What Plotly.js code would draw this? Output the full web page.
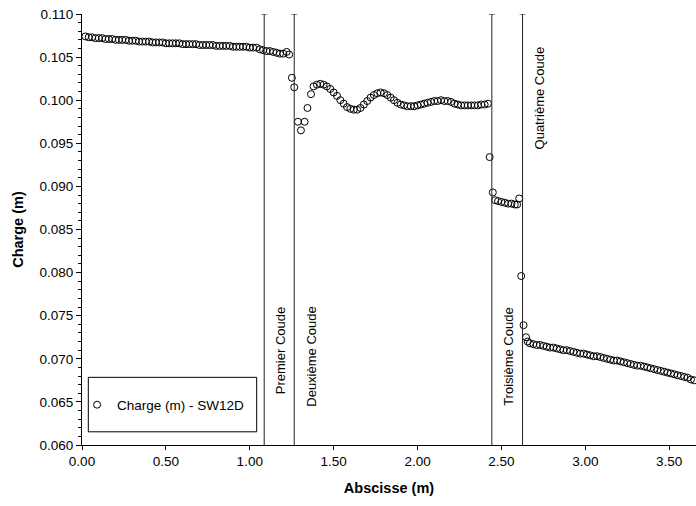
<!DOCTYPE html>
<html>
<head>
<meta charset="utf-8">
<script src="https://cdn.plot.ly/plotly-3.0.1.min.js"></script>
<style>html,body{margin:0;padding:0;background:#fff;}#chart{width:696px;height:506px;}</style>
</head>
<body>
<div id="chart"></div>
<script>
// Abscisse (m)
const abscisse = [
0.02,0.04,0.06,0.08,0.10,0.12,0.14,0.16,0.18,0.20,0.22,0.24,0.26,0.28,0.30,0.32,0.34,0.36,0.38,0.40,
0.42,0.44,0.46,0.48,0.50,0.52,0.54,0.56,0.58,0.60,0.62,0.64,0.66,0.68,0.70,0.72,0.74,0.76,0.78,0.80,
0.82,0.84,0.86,0.88,0.90,0.92,0.94,0.96,0.98,1.00,1.02,1.04,
1.06,1.08,1.10,1.12,1.14,1.16,1.18,1.20,1.22,1.235,
1.251,1.265,1.287,1.305,1.327,1.344,1.365,1.38,
1.40,1.42,1.44,1.46,1.48,1.50,1.52,1.54,1.56,1.58,1.60,1.62,1.64,1.66,1.68,1.70,1.72,1.74,1.76,1.78,
1.80,1.82,1.84,1.86,1.88,1.90,1.92,1.94,1.96,1.98,2.00,2.02,2.04,2.06,2.08,2.10,2.12,2.14,2.16,2.18,
2.20,2.22,2.24,2.26,2.28,2.30,2.32,2.34,2.36,2.38,2.40,2.42,
2.43,2.449,2.463,2.48,2.50,2.52,2.54,2.56,2.58,2.594,2.606,
2.618,2.632,2.647,2.657,
2.67,2.69,2.71,2.73,2.75,2.77,2.79,2.81,2.83,2.85,2.87,2.89,2.91,2.93,2.95,2.97,2.99,3.01,3.03,3.05,
3.07,3.09,3.11,3.13,3.15,3.17,3.19,3.21,3.23,3.25,3.27,3.29,3.31,3.33,3.35,3.37,3.39,3.41,3.43,3.45,
3.47,3.49,3.51,3.53,3.55,3.57,3.59,3.61,3.63,3.65
];
// Charge (m) - SW12D
const charge = [
0.1074,0.1073,0.1073,0.1072,0.1072,0.1072,0.1071,0.1071,0.1071,0.1070,0.1070,0.1070,0.1070,0.1069,0.1069,0.1069,0.1068,0.1068,0.1068,0.1068,
0.1067,0.1067,0.1067,0.1067,0.1066,0.1066,0.1066,0.1066,0.1066,0.1065,0.1065,0.1065,0.1065,0.1065,0.1064,0.1064,0.1064,0.1064,0.1064,0.1063,
0.1063,0.1063,0.1063,0.1063,0.1062,0.1062,0.1062,0.1062,0.1062,0.1061,0.1061,0.1061,
0.1059,0.1058,0.1057,0.1057,0.1056,0.1055,0.1054,0.1054,0.1056,0.1053,
0.1026,0.1015,0.0975,0.0965,0.0975,0.0991,0.1007,0.1016,
0.1018,0.1019,0.1018,0.1016,0.1013,0.1009,0.1005,0.1000,0.0996,0.0992,0.0990,0.0989,0.0989,0.0991,0.0995,0.0999,0.1003,0.1006,0.1008,0.1009,
0.1008,0.1006,0.1003,0.1000,0.0997,0.0995,0.0994,0.0993,0.0993,0.0993,0.0994,0.0995,0.0996,0.0997,0.0998,0.0999,0.0999,0.1000,0.0999,0.0999,
0.0998,0.0996,0.0995,0.0994,0.0994,0.0994,0.0994,0.0994,0.0994,0.0995,0.0995,0.0996,
0.0934,0.0893,0.0884,0.0883,0.0882,0.0881,0.0880,0.0880,0.0879,0.0879,0.0886,
0.0796,0.0739,0.0725,0.0720,
0.0718,0.0717,0.0716,0.0716,0.0715,0.0714,0.0713,0.0713,0.0712,0.0711,0.0710,0.0710,0.0709,0.0708,0.0707,0.0706,0.0706,0.0705,0.0704,0.0703,
0.0703,0.0702,0.0701,0.0700,0.0699,0.0698,0.0698,0.0697,0.0696,0.0695,0.0694,0.0693,0.0692,0.0692,0.0691,0.0690,0.0689,0.0688,0.0687,0.0686,
0.0685,0.0684,0.0683,0.0682,0.0681,0.0680,0.0679,0.0678,0.0676,0.0675
];
// Coudes (bends)
const coudeX = [1.086, 1.265, 2.443, 2.626];
const coudeLabels = ["Premier Coude", "Deuxième Coude", "Troisième Coude", "Quatrième Coude"];
const xTickVals = [0, 0.5, 1.0, 1.5, 2.0, 2.5, 3.0, 3.5];
const xTickText = ["0.00","0.50","1.00","1.50","2.00","2.50","3.00","3.50"];
const yTickVals = [0.060,0.065,0.070,0.075,0.080,0.085,0.090,0.095,0.100,0.105,0.110];
const yTickText = ["0.060","0.065","0.070","0.075","0.080","0.085","0.090","0.095","0.100","0.105","0.110"];

const FONT = "Liberation Sans, Arial, sans-serif";

const trace = {
  x: abscisse, y: charge, type: "scatter", mode: "markers",
  name: "Charge (m) - SW12D",
  marker: {symbol: "circle-open", size: 7, color: "#000", line: {width: 1, color: "#000"}},
  hoverinfo: "x+y"
};

const shapes = [];
const annotations = [];
coudeX.forEach((cx, i) => {
  shapes.push({type: "line", xref: "x", yref: "y", x0: cx, x1: cx, y0: 0.060, y1: 0.110,
               line: {color: "#222", width: 1}});
  shapes.push({type: "line", xref: "x", yref: "y", xsizemode: "pixel", xanchor: cx, x0: -3, x1: 3,
               y0: 0.110, y1: 0.110, line: {color: "#222", width: 1}});
  const top = i < 3;
  annotations.push({
    text: coudeLabels[i], xref: "x", yref: "y", x: cx, y: top ? 0.07624 : 0.0940,
    xanchor: "left", yanchor: top ? "top" : "bottom", xshift: 7, textangle: -90,
    showarrow: false, font: {family: FONT, size: 13, color: "#000"}
  });
});
// legend frame
shapes.push({type: "rect", xref: "paper", yref: "paper", x0: 0.0103, x1: 0.2845, y0: 0.0306, y1: 0.157,
             line: {color: "#000", width: 1}, fillcolor: "rgba(0,0,0,0)"});

const layout = {
  width: 696, height: 506,
  margin: {l: 82, r: 0, t: 14, b: 61, pad: 0},
  paper_bgcolor: "#fff", plot_bgcolor: "#fff",
  font: {family: FONT, size: 13, color: "#000"},
  showlegend: true,
  legend: {x: -0.008, xanchor: "left", y: 0.093, yanchor: "middle", bgcolor: "rgba(0,0,0,0)",
           borderwidth: 0, font: {family: FONT, size: 13.5, color: "#000"}},
  xaxis: {
    range: [0, 3.66], showgrid: false, zeroline: false, showline: true, linecolor: "#000", linewidth: 1,
    tickmode: "array", tickvals: xTickVals, ticktext: xTickText,
    ticks: "outside", ticklen: 4, tickcolor: "#000",
    tickfont: {family: FONT, size: 13.5, color: "#000"},
    title: {text: "<b>Abscisse (m)</b>", font: {family: FONT, size: 14.5, color: "#000"}, standoff: 14}
  },
  yaxis: {
    range: [0.060, 0.110], showgrid: false, zeroline: false, showline: true, linecolor: "#000", linewidth: 1,
    tickmode: "array", tickvals: yTickVals, ticktext: yTickText,
    ticks: "outside", ticklen: 5, tickcolor: "#000",
    minor: {dtick: 0.001, ticks: "outside", ticklen: 3, tickcolor: "#000", showgrid: false},
    tickfont: {family: FONT, size: 13.5, color: "#000"},
    title: {text: "<b>Charge (m)</b>", font: {family: FONT, size: 14.5, color: "#000"}, standoff: 12}
  },
  shapes: shapes,
  annotations: annotations
};

Plotly.newPlot("chart", [trace], layout, {displayModeBar: false, staticPlot: true});
</script>
</body>
</html>
